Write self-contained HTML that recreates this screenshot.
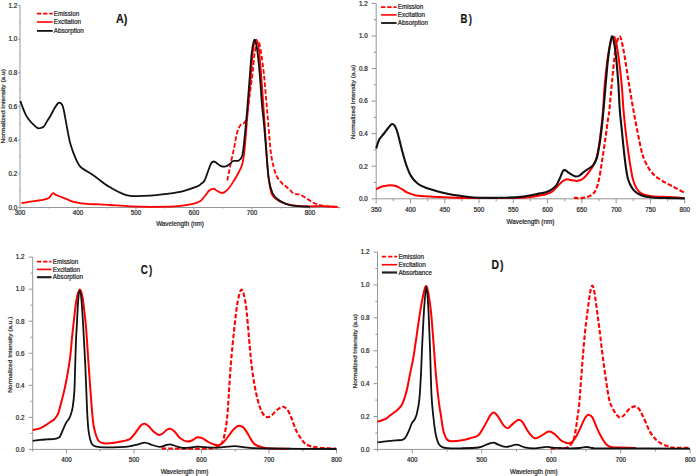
<!DOCTYPE html>
<html><head><meta charset="utf-8"><style>
html,body{margin:0;padding:0;background:#fff;}
body{width:696px;height:476px;overflow:hidden;}
svg{display:block;font-family:"Liberation Sans", sans-serif;}
text{stroke:#333;stroke-width:0.22px;}
</style></head><body>
<svg width="696" height="476" viewBox="0 0 696 476">
<rect width="696" height="476" fill="#fff"/>
<line x1="20.00" y1="207.50" x2="340.20" y2="207.50" stroke="#959595" stroke-width="1.00"/>
<line x1="20.00" y1="207.50" x2="20.00" y2="5.50" stroke="#959595" stroke-width="1.00"/>
<line x1="18.20" y1="207.50" x2="20.00" y2="207.50" stroke="#959595" stroke-width="1.00"/>
<line x1="19.00" y1="190.67" x2="20.00" y2="190.67" stroke="#959595" stroke-width="1.00"/>
<line x1="18.20" y1="173.83" x2="20.00" y2="173.83" stroke="#959595" stroke-width="1.00"/>
<line x1="19.00" y1="157.00" x2="20.00" y2="157.00" stroke="#959595" stroke-width="1.00"/>
<line x1="18.20" y1="140.17" x2="20.00" y2="140.17" stroke="#959595" stroke-width="1.00"/>
<line x1="19.00" y1="123.33" x2="20.00" y2="123.33" stroke="#959595" stroke-width="1.00"/>
<line x1="18.20" y1="106.50" x2="20.00" y2="106.50" stroke="#959595" stroke-width="1.00"/>
<line x1="19.00" y1="89.67" x2="20.00" y2="89.67" stroke="#959595" stroke-width="1.00"/>
<line x1="18.20" y1="72.83" x2="20.00" y2="72.83" stroke="#959595" stroke-width="1.00"/>
<line x1="19.00" y1="56.00" x2="20.00" y2="56.00" stroke="#959595" stroke-width="1.00"/>
<line x1="18.20" y1="39.17" x2="20.00" y2="39.17" stroke="#959595" stroke-width="1.00"/>
<line x1="19.00" y1="22.33" x2="20.00" y2="22.33" stroke="#959595" stroke-width="1.00"/>
<line x1="18.20" y1="5.50" x2="20.00" y2="5.50" stroke="#959595" stroke-width="1.00"/>
<text x="17.20" y="209.80" font-size="6.30" text-anchor="end" fill="#222222" font-weight="normal">0.0</text>
<text x="17.20" y="176.13" font-size="6.30" text-anchor="end" fill="#222222" font-weight="normal">0.2</text>
<text x="17.20" y="142.47" font-size="6.30" text-anchor="end" fill="#222222" font-weight="normal">0.4</text>
<text x="17.20" y="108.80" font-size="6.30" text-anchor="end" fill="#222222" font-weight="normal">0.6</text>
<text x="17.20" y="75.13" font-size="6.30" text-anchor="end" fill="#222222" font-weight="normal">0.8</text>
<text x="17.20" y="41.47" font-size="6.30" text-anchor="end" fill="#222222" font-weight="normal">1.0</text>
<text x="17.20" y="7.80" font-size="6.30" text-anchor="end" fill="#222222" font-weight="normal">1.2</text>
<line x1="20.00" y1="207.50" x2="20.00" y2="209.30" stroke="#959595" stroke-width="1.00"/>
<line x1="48.99" y1="207.50" x2="48.99" y2="208.50" stroke="#959595" stroke-width="1.00"/>
<line x1="77.98" y1="207.50" x2="77.98" y2="209.30" stroke="#959595" stroke-width="1.00"/>
<line x1="106.97" y1="207.50" x2="106.97" y2="208.50" stroke="#959595" stroke-width="1.00"/>
<line x1="135.96" y1="207.50" x2="135.96" y2="209.30" stroke="#959595" stroke-width="1.00"/>
<line x1="164.95" y1="207.50" x2="164.95" y2="208.50" stroke="#959595" stroke-width="1.00"/>
<line x1="193.94" y1="207.50" x2="193.94" y2="209.30" stroke="#959595" stroke-width="1.00"/>
<line x1="222.93" y1="207.50" x2="222.93" y2="208.50" stroke="#959595" stroke-width="1.00"/>
<line x1="251.92" y1="207.50" x2="251.92" y2="209.30" stroke="#959595" stroke-width="1.00"/>
<line x1="280.91" y1="207.50" x2="280.91" y2="208.50" stroke="#959595" stroke-width="1.00"/>
<line x1="309.90" y1="207.50" x2="309.90" y2="209.30" stroke="#959595" stroke-width="1.00"/>
<line x1="338.89" y1="207.50" x2="338.89" y2="208.50" stroke="#959595" stroke-width="1.00"/>
<text x="20.00" y="215.40" font-size="6.30" text-anchor="middle" fill="#222222" font-weight="normal">300</text>
<text x="77.98" y="215.40" font-size="6.30" text-anchor="middle" fill="#222222" font-weight="normal">400</text>
<text x="135.96" y="215.40" font-size="6.30" text-anchor="middle" fill="#222222" font-weight="normal">500</text>
<text x="193.94" y="215.40" font-size="6.30" text-anchor="middle" fill="#222222" font-weight="normal">600</text>
<text x="251.92" y="215.40" font-size="6.30" text-anchor="middle" fill="#222222" font-weight="normal">700</text>
<text x="309.90" y="215.40" font-size="6.30" text-anchor="middle" fill="#222222" font-weight="normal">800</text>
<text x="180.00" y="226.30" font-size="6.30" text-anchor="middle" fill="#222222" font-weight="normal">Wavelength (nm)</text>
<text x="0" y="0" font-size="5.4" text-anchor="middle" fill="#222222" transform="translate(5.30,106.30) rotate(-90) scale(1.21,1)">Normalized Intensity (a.u)</text>
<path d="M227.30,180.50C227.80,178.00 229.17,170.93 230.30,165.50C231.43,160.07 233.00,153.23 234.10,147.90C235.20,142.57 235.83,137.32 236.90,133.50C237.97,129.68 239.23,126.82 240.50,125.00C241.77,123.18 243.42,124.10 244.50,122.60C245.58,121.10 246.15,120.43 247.00,116.00C247.85,111.57 248.70,102.83 249.60,96.00C250.50,89.17 251.53,82.33 252.40,75.00C253.27,67.67 253.85,57.68 254.80,52.00C255.75,46.32 257.07,40.90 258.10,40.90C259.13,40.90 260.02,46.32 261.00,52.00C261.98,57.68 263.13,67.00 264.00,75.00C264.87,83.00 265.48,91.80 266.20,100.00C266.92,108.20 267.45,114.93 268.30,124.20C269.15,133.47 270.00,147.15 271.30,155.60C272.60,164.05 274.30,170.28 276.10,174.90C277.90,179.52 280.45,181.37 282.10,183.30C283.75,185.23 284.67,185.38 286.00,186.50C287.33,187.62 288.92,188.88 290.10,190.00C291.28,191.12 291.95,192.48 293.10,193.20C294.25,193.92 295.83,194.07 297.00,194.30C298.17,194.53 298.57,193.97 300.10,194.60C301.63,195.23 304.18,196.85 306.20,198.10C308.22,199.35 310.20,201.02 312.20,202.10C314.20,203.18 316.02,203.93 318.20,204.60C320.38,205.27 322.12,205.72 325.30,206.10C328.48,206.48 335.30,206.77 337.30,206.90" fill="none" stroke="#ff0000" stroke-width="1.80" stroke-linejoin="round" stroke-dasharray="4.6,2.1"/>
<path d="M21.60,203.20C22.78,202.97 26.32,202.20 28.70,201.80C31.08,201.40 33.50,201.13 35.90,200.80C38.30,200.47 40.93,200.28 43.10,199.80C45.27,199.32 47.47,198.82 48.90,197.90C50.33,196.98 50.95,195.08 51.70,194.30C52.45,193.52 52.68,193.08 53.40,193.20C54.12,193.32 54.85,194.45 56.00,195.00C57.15,195.55 58.62,195.85 60.30,196.50C61.98,197.15 63.70,197.95 66.10,198.90C68.50,199.85 71.35,201.37 74.70,202.20C78.05,203.03 81.98,203.53 86.20,203.90C90.42,204.27 96.02,204.22 100.00,204.40C103.98,204.58 105.07,204.67 110.10,205.00C115.13,205.33 123.50,206.10 130.20,206.40C136.90,206.70 142.92,206.80 150.30,206.80C157.68,206.80 167.78,206.80 174.50,206.40C181.22,206.00 186.42,205.22 190.60,204.40C194.78,203.58 197.28,202.82 199.60,201.50C201.92,200.18 202.93,198.28 204.50,196.50C206.07,194.72 207.50,192.12 209.00,190.80C210.50,189.48 212.17,188.60 213.50,188.60C214.83,188.60 215.50,190.07 217.00,190.80C218.50,191.53 220.70,193.23 222.50,193.00C224.30,192.77 225.92,191.42 227.80,189.40C229.68,187.38 232.00,183.72 233.80,180.90C235.60,178.08 237.18,175.32 238.60,172.50C240.02,169.68 241.28,168.03 242.30,164.00C243.32,159.97 243.87,156.13 244.70,148.30C245.53,140.47 246.27,129.22 247.30,117.00C248.33,104.78 249.95,86.17 250.90,75.00C251.85,63.83 252.08,55.90 253.00,50.00C253.92,44.10 255.40,39.60 256.40,39.60C257.40,39.60 258.20,44.10 259.00,50.00C259.80,55.90 260.42,65.00 261.20,75.00C261.98,85.00 263.03,100.60 263.70,110.00C264.37,119.40 264.55,121.80 265.20,131.40C265.85,141.00 266.80,158.33 267.60,167.60C268.40,176.87 269.18,182.37 270.00,187.00C270.82,191.63 270.88,193.00 272.50,195.40C274.12,197.80 276.48,199.78 279.70,201.40C282.92,203.02 286.97,204.28 291.80,205.10C296.63,205.92 303.97,206.12 308.70,206.30C313.43,206.48 315.37,206.10 320.20,206.20C325.03,206.30 334.78,206.78 337.70,206.90" fill="none" stroke="#ff0000" stroke-width="1.80" stroke-linejoin="round"/>
<path d="M20.40,101.00C20.87,102.30 22.30,106.50 23.20,108.80C24.10,111.10 24.80,112.93 25.80,114.80C26.80,116.67 27.92,118.35 29.20,120.00C30.48,121.65 32.07,123.33 33.50,124.70C34.93,126.07 36.50,127.68 37.80,128.20C39.10,128.72 40.28,128.10 41.30,127.80C42.32,127.50 42.90,127.55 43.90,126.40C44.90,125.25 46.15,122.77 47.30,120.90C48.45,119.03 49.65,117.22 50.80,115.20C51.95,113.18 53.05,110.73 54.20,108.80C55.35,106.87 56.82,104.63 57.70,103.60C58.58,102.57 58.78,102.45 59.50,102.60C60.22,102.75 61.30,103.32 62.00,104.50C62.70,105.68 63.07,106.97 63.70,109.70C64.33,112.43 65.08,117.03 65.80,120.90C66.52,124.77 67.22,129.02 68.00,132.90C68.78,136.78 69.25,140.00 70.50,144.20C71.75,148.40 73.83,154.32 75.50,158.10C77.17,161.88 78.40,164.60 80.50,166.90C82.60,169.20 85.57,170.22 88.10,171.90C90.63,173.58 92.97,175.02 95.70,177.00C98.43,178.98 102.10,182.08 104.50,183.80C106.90,185.52 107.48,185.82 110.10,187.30C112.72,188.78 116.85,191.27 120.20,192.70C123.55,194.13 125.18,195.40 130.20,195.90C135.22,196.40 144.27,196.03 150.30,195.70C156.33,195.37 161.03,194.63 166.40,193.90C171.77,193.17 177.47,192.50 182.50,191.30C187.53,190.10 193.52,187.92 196.60,186.70C199.68,185.48 199.68,185.03 201.00,184.00C202.32,182.97 203.25,182.83 204.50,180.50C205.75,178.17 207.42,172.83 208.50,170.00C209.58,167.17 210.17,164.92 211.00,163.50C211.83,162.08 212.53,161.55 213.50,161.50C214.47,161.45 215.55,162.42 216.80,163.20C218.05,163.98 219.53,165.67 221.00,166.20C222.47,166.73 224.18,166.73 225.60,166.40C227.02,166.07 228.25,165.10 229.50,164.20C230.75,163.30 231.58,161.60 233.10,161.00C234.62,160.40 237.07,161.50 238.60,160.60C240.13,159.70 241.30,159.45 242.30,155.60C243.30,151.75 243.83,144.60 244.60,137.50C245.37,130.40 246.02,123.42 246.90,113.00C247.78,102.58 249.08,85.17 249.90,75.00C250.72,64.83 251.03,57.90 251.80,52.00C252.57,46.10 253.60,39.93 254.50,39.60C255.40,39.27 256.32,44.10 257.20,50.00C258.08,55.90 259.00,65.83 259.80,75.00C260.60,84.17 261.30,96.80 262.00,105.00C262.70,113.20 263.27,116.18 264.00,124.20C264.73,132.22 265.60,143.85 266.40,153.10C267.20,162.35 267.78,173.05 268.80,179.70C269.82,186.35 271.08,189.78 272.50,193.00C273.92,196.22 275.30,197.27 277.30,199.00C279.30,200.73 282.08,202.30 284.50,203.40C286.92,204.50 288.98,205.12 291.80,205.60C294.62,206.08 298.33,206.13 301.40,206.30C304.47,206.47 308.73,206.55 310.20,206.60" fill="none" stroke="#111111" stroke-width="1.80" stroke-linejoin="round"/>
<line x1="36.90" y1="13.60" x2="52.70" y2="13.60" stroke="#ff0000" stroke-width="1.60" stroke-dasharray="4.3,1.9"/>
<line x1="36.90" y1="22.00" x2="52.70" y2="22.00" stroke="#ff0000" stroke-width="1.60"/>
<line x1="36.90" y1="30.90" x2="52.70" y2="30.90" stroke="#111111" stroke-width="1.80"/>
<text x="53.70" y="15.80" font-size="6.30" text-anchor="start" fill="#222222" font-weight="normal">Emission</text>
<text x="53.70" y="24.20" font-size="6.30" text-anchor="start" fill="#222222" font-weight="normal">Excitation</text>
<text x="53.70" y="33.10" font-size="6.30" text-anchor="start" fill="#222222" font-weight="normal">Absorption</text>
<text x="116.00" y="22.90" font-size="12.00" text-anchor="start" fill="#111" font-weight="bold" transform="translate(116,0) scale(0.9,1) translate(-116,0)">A)</text>
<line x1="376.20" y1="198.80" x2="684.70" y2="198.80" stroke="#959595" stroke-width="1.00"/>
<line x1="376.20" y1="198.80" x2="376.20" y2="3.40" stroke="#959595" stroke-width="1.00"/>
<line x1="371.60" y1="198.80" x2="376.20" y2="198.80" stroke="#959595" stroke-width="1.00"/>
<line x1="373.80" y1="182.52" x2="376.20" y2="182.52" stroke="#959595" stroke-width="1.00"/>
<line x1="371.60" y1="166.23" x2="376.20" y2="166.23" stroke="#959595" stroke-width="1.00"/>
<line x1="373.80" y1="149.95" x2="376.20" y2="149.95" stroke="#959595" stroke-width="1.00"/>
<line x1="371.60" y1="133.67" x2="376.20" y2="133.67" stroke="#959595" stroke-width="1.00"/>
<line x1="373.80" y1="117.38" x2="376.20" y2="117.38" stroke="#959595" stroke-width="1.00"/>
<line x1="371.60" y1="101.10" x2="376.20" y2="101.10" stroke="#959595" stroke-width="1.00"/>
<line x1="373.80" y1="84.82" x2="376.20" y2="84.82" stroke="#959595" stroke-width="1.00"/>
<line x1="371.60" y1="68.53" x2="376.20" y2="68.53" stroke="#959595" stroke-width="1.00"/>
<line x1="373.80" y1="52.25" x2="376.20" y2="52.25" stroke="#959595" stroke-width="1.00"/>
<line x1="371.60" y1="35.97" x2="376.20" y2="35.97" stroke="#959595" stroke-width="1.00"/>
<line x1="373.80" y1="19.68" x2="376.20" y2="19.68" stroke="#959595" stroke-width="1.00"/>
<line x1="371.60" y1="3.40" x2="376.20" y2="3.40" stroke="#959595" stroke-width="1.00"/>
<text x="367.80" y="201.10" font-size="6.30" text-anchor="end" fill="#222222" font-weight="normal">0.0</text>
<text x="367.80" y="168.53" font-size="6.30" text-anchor="end" fill="#222222" font-weight="normal">0.2</text>
<text x="367.80" y="135.97" font-size="6.30" text-anchor="end" fill="#222222" font-weight="normal">0.4</text>
<text x="367.80" y="103.40" font-size="6.30" text-anchor="end" fill="#222222" font-weight="normal">0.6</text>
<text x="367.80" y="70.83" font-size="6.30" text-anchor="end" fill="#222222" font-weight="normal">0.8</text>
<text x="367.80" y="38.27" font-size="6.30" text-anchor="end" fill="#222222" font-weight="normal">1.0</text>
<text x="367.80" y="5.70" font-size="6.30" text-anchor="end" fill="#222222" font-weight="normal">1.2</text>
<line x1="376.20" y1="198.80" x2="376.20" y2="203.40" stroke="#959595" stroke-width="1.00"/>
<line x1="393.34" y1="198.80" x2="393.34" y2="201.20" stroke="#959595" stroke-width="1.00"/>
<line x1="410.48" y1="198.80" x2="410.48" y2="203.40" stroke="#959595" stroke-width="1.00"/>
<line x1="427.62" y1="198.80" x2="427.62" y2="201.20" stroke="#959595" stroke-width="1.00"/>
<line x1="444.76" y1="198.80" x2="444.76" y2="203.40" stroke="#959595" stroke-width="1.00"/>
<line x1="461.89" y1="198.80" x2="461.89" y2="201.20" stroke="#959595" stroke-width="1.00"/>
<line x1="479.03" y1="198.80" x2="479.03" y2="203.40" stroke="#959595" stroke-width="1.00"/>
<line x1="496.17" y1="198.80" x2="496.17" y2="201.20" stroke="#959595" stroke-width="1.00"/>
<line x1="513.31" y1="198.80" x2="513.31" y2="203.40" stroke="#959595" stroke-width="1.00"/>
<line x1="530.45" y1="198.80" x2="530.45" y2="201.20" stroke="#959595" stroke-width="1.00"/>
<line x1="547.59" y1="198.80" x2="547.59" y2="203.40" stroke="#959595" stroke-width="1.00"/>
<line x1="564.73" y1="198.80" x2="564.73" y2="201.20" stroke="#959595" stroke-width="1.00"/>
<line x1="581.87" y1="198.80" x2="581.87" y2="203.40" stroke="#959595" stroke-width="1.00"/>
<line x1="599.01" y1="198.80" x2="599.01" y2="201.20" stroke="#959595" stroke-width="1.00"/>
<line x1="616.14" y1="198.80" x2="616.14" y2="203.40" stroke="#959595" stroke-width="1.00"/>
<line x1="633.28" y1="198.80" x2="633.28" y2="201.20" stroke="#959595" stroke-width="1.00"/>
<line x1="650.42" y1="198.80" x2="650.42" y2="203.40" stroke="#959595" stroke-width="1.00"/>
<line x1="667.56" y1="198.80" x2="667.56" y2="201.20" stroke="#959595" stroke-width="1.00"/>
<line x1="684.70" y1="198.80" x2="684.70" y2="203.40" stroke="#959595" stroke-width="1.00"/>
<text x="376.20" y="211.80" font-size="6.30" text-anchor="middle" fill="#222222" font-weight="normal">350</text>
<text x="410.48" y="211.80" font-size="6.30" text-anchor="middle" fill="#222222" font-weight="normal">400</text>
<text x="444.76" y="211.80" font-size="6.30" text-anchor="middle" fill="#222222" font-weight="normal">450</text>
<text x="479.03" y="211.80" font-size="6.30" text-anchor="middle" fill="#222222" font-weight="normal">500</text>
<text x="513.31" y="211.80" font-size="6.30" text-anchor="middle" fill="#222222" font-weight="normal">550</text>
<text x="547.59" y="211.80" font-size="6.30" text-anchor="middle" fill="#222222" font-weight="normal">600</text>
<text x="581.87" y="211.80" font-size="6.30" text-anchor="middle" fill="#222222" font-weight="normal">650</text>
<text x="616.14" y="211.80" font-size="6.30" text-anchor="middle" fill="#222222" font-weight="normal">700</text>
<text x="650.42" y="211.80" font-size="6.30" text-anchor="middle" fill="#222222" font-weight="normal">750</text>
<text x="684.70" y="211.80" font-size="6.30" text-anchor="middle" fill="#222222" font-weight="normal">800</text>
<text x="530.40" y="223.60" font-size="6.30" text-anchor="middle" fill="#222222" font-weight="normal">Wavelength (nm)</text>
<text x="0" y="0" font-size="5.4" text-anchor="middle" fill="#222222" transform="translate(354.70,102.00) rotate(-90) scale(1.21,1)">Normalized Intensity (a.u)</text>
<path d="M573.90,197.80C574.90,197.87 577.90,198.27 579.90,198.20C581.90,198.13 583.90,197.97 585.90,197.40C587.90,196.83 590.23,196.07 591.90,194.80C593.57,193.53 594.73,192.30 595.90,189.80C597.07,187.30 597.90,184.45 598.90,179.80C599.90,175.15 600.90,168.22 601.90,161.90C602.90,155.58 603.90,148.88 604.90,141.90C605.90,134.92 607.15,125.32 607.90,120.00C608.65,114.68 608.72,116.38 609.40,110.00C610.08,103.62 610.98,91.70 612.00,81.70C613.02,71.70 614.25,57.57 615.50,50.00C616.75,42.43 618.17,36.30 619.50,36.30C620.83,36.30 621.98,42.43 623.50,50.00C625.02,57.57 626.80,70.87 628.60,81.70C630.40,92.53 632.18,103.62 634.30,115.00C636.42,126.38 639.52,142.32 641.30,150.00C643.08,157.68 643.62,157.83 645.00,161.10C646.38,164.37 647.90,167.12 649.60,169.60C651.30,172.08 653.05,174.10 655.20,176.00C657.35,177.90 659.73,179.33 662.50,181.00C665.27,182.67 668.13,184.03 671.80,186.00C675.47,187.97 682.38,191.67 684.50,192.80" fill="none" stroke="#ff0000" stroke-width="2.10" stroke-linejoin="round" stroke-dasharray="4.6,2.1"/>
<path d="M376.20,189.30C377.17,188.83 379.70,187.18 382.00,186.50C384.30,185.82 387.68,185.28 390.00,185.20C392.32,185.12 393.92,185.33 395.90,186.00C397.88,186.67 399.90,188.07 401.90,189.20C403.90,190.33 405.57,191.77 407.90,192.80C410.23,193.83 412.23,194.77 415.90,195.40C419.57,196.03 424.25,196.27 429.90,196.60C435.55,196.93 443.82,197.17 449.80,197.40C455.78,197.63 457.87,197.88 465.80,198.00C473.73,198.12 487.92,198.15 497.40,198.10C506.88,198.05 516.12,198.03 522.70,197.70C529.28,197.37 534.02,196.48 536.90,196.10C539.78,195.72 538.48,195.72 540.00,195.40C541.52,195.08 544.00,194.80 546.00,194.20C548.00,193.60 550.00,193.20 552.00,191.80C554.00,190.40 556.33,187.47 558.00,185.80C559.67,184.13 560.68,182.87 562.00,181.80C563.32,180.73 564.25,179.67 565.90,179.40C567.55,179.13 569.90,179.97 571.90,180.20C573.90,180.43 575.90,181.18 577.90,180.80C579.90,180.42 581.57,180.05 583.90,177.90C586.23,175.75 589.90,170.90 591.90,167.90C593.90,164.90 594.73,163.57 595.90,159.90C597.07,156.23 597.97,151.55 598.90,145.90C599.83,140.25 600.80,131.98 601.50,126.00C602.20,120.02 602.52,117.38 603.10,110.00C603.68,102.62 604.02,91.70 605.00,81.70C605.98,71.70 607.52,57.50 609.00,50.00C610.48,42.50 612.48,36.70 613.90,36.70C615.32,36.70 616.25,42.50 617.50,50.00C618.75,57.50 620.40,71.70 621.40,81.70C622.40,91.70 622.82,101.95 623.50,110.00C624.18,118.05 624.75,123.33 625.50,130.00C626.25,136.67 627.22,144.20 628.00,150.00C628.78,155.80 629.37,159.87 630.20,164.80C631.03,169.73 631.92,175.60 633.00,179.60C634.08,183.60 635.17,186.40 636.70,188.80C638.23,191.20 639.73,192.77 642.20,194.00C644.67,195.23 646.87,195.68 651.50,196.20C656.13,196.72 664.47,196.77 670.00,197.10C675.53,197.43 682.25,198.02 684.70,198.20" fill="none" stroke="#ff0000" stroke-width="2.00" stroke-linejoin="round"/>
<path d="M376.20,148.50C376.67,147.07 377.70,142.40 379.00,139.90C380.30,137.40 382.33,135.65 384.00,133.50C385.67,131.35 387.67,128.58 389.00,127.00C390.33,125.42 391.02,124.17 392.00,124.00C392.98,123.83 393.92,124.33 394.90,126.00C395.88,127.67 396.73,130.02 397.90,134.00C399.07,137.98 400.57,144.92 401.90,149.90C403.23,154.88 404.40,159.57 405.90,163.90C407.40,168.23 408.90,172.58 410.90,175.90C412.90,179.22 415.40,181.82 417.90,183.80C420.40,185.78 422.57,186.53 425.90,187.80C429.23,189.07 433.92,190.33 437.90,191.40C441.88,192.47 446.12,193.47 449.80,194.20C453.48,194.93 456.02,195.25 460.00,195.80C463.98,196.35 467.47,197.17 473.70,197.50C479.93,197.83 489.50,197.90 497.40,197.80C505.30,197.70 515.30,197.37 521.10,196.90C526.90,196.43 529.05,195.58 532.20,195.00C535.35,194.42 537.70,193.87 540.00,193.40C542.30,192.93 544.17,192.80 546.00,192.20C547.83,191.60 549.33,190.87 551.00,189.80C552.67,188.73 554.50,187.78 556.00,185.80C557.50,183.82 558.83,180.38 560.00,177.90C561.17,175.42 562.08,172.17 563.00,170.90C563.92,169.63 564.52,169.97 565.50,170.30C566.48,170.63 567.33,171.90 568.90,172.90C570.47,173.90 573.23,175.80 574.90,176.30C576.57,176.80 577.40,176.63 578.90,175.90C580.40,175.17 582.23,173.13 583.90,171.90C585.57,170.67 587.40,169.57 588.90,168.50C590.40,167.43 591.57,167.27 592.90,165.50C594.23,163.73 595.73,161.83 596.90,157.90C598.07,153.97 599.07,147.22 599.90,141.90C600.73,136.58 601.30,131.32 601.90,126.00C602.50,120.68 602.83,117.38 603.50,110.00C604.17,102.62 605.07,90.87 605.90,81.70C606.73,72.53 607.48,62.57 608.50,55.00C609.52,47.43 610.83,36.80 612.00,36.30C613.17,35.80 614.47,44.43 615.50,52.00C616.53,59.57 617.48,72.03 618.20,81.70C618.92,91.37 619.20,101.95 619.80,110.00C620.40,118.05 621.13,123.33 621.80,130.00C622.47,136.67 623.15,144.00 623.80,150.00C624.45,156.00 625.00,161.17 625.70,166.00C626.40,170.83 626.95,175.35 628.00,179.00C629.05,182.65 630.55,185.58 632.00,187.90C633.45,190.22 634.68,191.52 636.70,192.90C638.72,194.28 641.02,195.40 644.10,196.20C647.18,197.00 650.88,197.38 655.20,197.70C659.52,198.02 665.08,197.98 670.00,198.10C674.92,198.22 682.25,198.35 684.70,198.40" fill="none" stroke="#111111" stroke-width="2.10" stroke-linejoin="round"/>
<line x1="381.10" y1="7.10" x2="396.60" y2="7.10" stroke="#ff0000" stroke-width="1.60" stroke-dasharray="4.3,1.9"/>
<line x1="381.10" y1="14.90" x2="396.60" y2="14.90" stroke="#ff0000" stroke-width="1.60"/>
<line x1="381.10" y1="23.00" x2="396.60" y2="23.00" stroke="#111111" stroke-width="1.80"/>
<text x="397.80" y="9.30" font-size="6.30" text-anchor="start" fill="#222222" font-weight="normal">Emission</text>
<text x="397.80" y="17.10" font-size="6.30" text-anchor="start" fill="#222222" font-weight="normal">Excitation</text>
<text x="397.80" y="25.20" font-size="6.30" text-anchor="start" fill="#222222" font-weight="normal">Absorption</text>
<text x="460.60" y="22.60" font-size="13.30" text-anchor="start" fill="#111" font-weight="bold" letter-spacing="1.6" transform="translate(460.6,0) scale(0.72,1) translate(-460.6,0)">B)</text>
<line x1="32.70" y1="449.40" x2="336.60" y2="449.40" stroke="#959595" stroke-width="1.00"/>
<line x1="32.70" y1="449.40" x2="32.70" y2="257.10" stroke="#959595" stroke-width="1.00"/>
<line x1="28.70" y1="449.40" x2="32.70" y2="449.40" stroke="#959595" stroke-width="1.00"/>
<line x1="30.50" y1="433.38" x2="32.70" y2="433.38" stroke="#959595" stroke-width="1.00"/>
<line x1="28.70" y1="417.35" x2="32.70" y2="417.35" stroke="#959595" stroke-width="1.00"/>
<line x1="30.50" y1="401.32" x2="32.70" y2="401.32" stroke="#959595" stroke-width="1.00"/>
<line x1="28.70" y1="385.30" x2="32.70" y2="385.30" stroke="#959595" stroke-width="1.00"/>
<line x1="30.50" y1="369.27" x2="32.70" y2="369.27" stroke="#959595" stroke-width="1.00"/>
<line x1="28.70" y1="353.25" x2="32.70" y2="353.25" stroke="#959595" stroke-width="1.00"/>
<line x1="30.50" y1="337.22" x2="32.70" y2="337.22" stroke="#959595" stroke-width="1.00"/>
<line x1="28.70" y1="321.20" x2="32.70" y2="321.20" stroke="#959595" stroke-width="1.00"/>
<line x1="30.50" y1="305.18" x2="32.70" y2="305.18" stroke="#959595" stroke-width="1.00"/>
<line x1="28.70" y1="289.15" x2="32.70" y2="289.15" stroke="#959595" stroke-width="1.00"/>
<line x1="30.50" y1="273.12" x2="32.70" y2="273.12" stroke="#959595" stroke-width="1.00"/>
<line x1="28.70" y1="257.10" x2="32.70" y2="257.10" stroke="#959595" stroke-width="1.00"/>
<text x="24.40" y="451.70" font-size="6.30" text-anchor="end" fill="#222222" font-weight="normal">0.0</text>
<text x="24.40" y="419.65" font-size="6.30" text-anchor="end" fill="#222222" font-weight="normal">0.2</text>
<text x="24.40" y="387.60" font-size="6.30" text-anchor="end" fill="#222222" font-weight="normal">0.4</text>
<text x="24.40" y="355.55" font-size="6.30" text-anchor="end" fill="#222222" font-weight="normal">0.6</text>
<text x="24.40" y="323.50" font-size="6.30" text-anchor="end" fill="#222222" font-weight="normal">0.8</text>
<text x="24.40" y="291.45" font-size="6.30" text-anchor="end" fill="#222222" font-weight="normal">1.0</text>
<text x="24.40" y="259.40" font-size="6.30" text-anchor="end" fill="#222222" font-weight="normal">1.2</text>
<line x1="32.70" y1="449.40" x2="32.70" y2="451.60" stroke="#959595" stroke-width="1.00"/>
<line x1="66.47" y1="449.40" x2="66.47" y2="453.40" stroke="#959595" stroke-width="1.00"/>
<line x1="100.23" y1="449.40" x2="100.23" y2="451.60" stroke="#959595" stroke-width="1.00"/>
<line x1="134.00" y1="449.40" x2="134.00" y2="453.40" stroke="#959595" stroke-width="1.00"/>
<line x1="167.77" y1="449.40" x2="167.77" y2="451.60" stroke="#959595" stroke-width="1.00"/>
<line x1="201.53" y1="449.40" x2="201.53" y2="453.40" stroke="#959595" stroke-width="1.00"/>
<line x1="235.30" y1="449.40" x2="235.30" y2="451.60" stroke="#959595" stroke-width="1.00"/>
<line x1="269.07" y1="449.40" x2="269.07" y2="453.40" stroke="#959595" stroke-width="1.00"/>
<line x1="302.83" y1="449.40" x2="302.83" y2="451.60" stroke="#959595" stroke-width="1.00"/>
<line x1="336.60" y1="449.40" x2="336.60" y2="453.40" stroke="#959595" stroke-width="1.00"/>
<text x="66.47" y="462.00" font-size="6.30" text-anchor="middle" fill="#222222" font-weight="normal">400</text>
<text x="134.00" y="462.00" font-size="6.30" text-anchor="middle" fill="#222222" font-weight="normal">500</text>
<text x="201.53" y="462.00" font-size="6.30" text-anchor="middle" fill="#222222" font-weight="normal">600</text>
<text x="269.07" y="462.00" font-size="6.30" text-anchor="middle" fill="#222222" font-weight="normal">700</text>
<text x="336.60" y="462.00" font-size="6.30" text-anchor="middle" fill="#222222" font-weight="normal">800</text>
<text x="184.50" y="473.80" font-size="6.30" text-anchor="middle" fill="#222222" font-weight="normal">Wavelength (nm)</text>
<text x="0" y="0" font-size="5.4" text-anchor="middle" fill="#222222" transform="translate(11.90,354.60) rotate(-90) scale(1.21,1)">Normalized Intensity (a.u.)</text>
<path d="M161.60,448.40C164.67,448.43 173.47,448.57 180.00,448.60C186.53,448.63 195.30,448.65 200.80,448.60C206.30,448.55 210.05,448.67 213.00,448.30C215.95,447.93 216.93,447.45 218.50,446.40C220.07,445.35 221.35,444.15 222.40,442.00C223.45,439.85 224.10,436.83 224.80,433.50C225.50,430.17 226.07,426.42 226.60,422.00C227.13,417.58 227.32,416.33 228.00,407.00C228.68,397.67 229.68,378.80 230.70,366.00C231.72,353.20 232.95,340.80 234.10,330.20C235.25,319.60 236.35,309.17 237.60,302.40C238.85,295.63 240.28,289.58 241.60,289.60C242.92,289.62 244.47,296.77 245.50,302.50C246.53,308.23 246.95,315.08 247.80,324.00C248.65,332.92 249.70,347.17 250.60,356.00C251.50,364.83 252.22,370.50 253.20,377.00C254.18,383.50 255.37,389.92 256.50,395.00C257.63,400.08 258.83,404.25 260.00,407.50C261.17,410.75 262.25,412.87 263.50,414.50C264.75,416.13 266.08,417.22 267.50,417.30C268.92,417.38 270.42,416.22 272.00,415.00C273.58,413.78 275.20,411.38 277.00,410.00C278.80,408.62 281.05,406.70 282.80,406.70C284.55,406.70 286.05,408.12 287.50,410.00C288.95,411.88 290.17,414.83 291.50,418.00C292.83,421.17 294.15,425.92 295.50,429.00C296.85,432.08 298.18,434.25 299.60,436.50C301.02,438.75 302.52,441.00 304.00,442.50C305.48,444.00 306.50,444.70 308.50,445.50C310.50,446.30 312.55,446.83 316.00,447.30C319.45,447.77 325.87,448.08 329.20,448.30C332.53,448.52 334.87,448.55 336.00,448.60" fill="none" stroke="#ff0000" stroke-width="2.10" stroke-linejoin="round" stroke-dasharray="4.6,2.1"/>
<path d="M32.70,429.90C33.82,429.68 37.23,429.38 39.40,428.60C41.57,427.82 43.93,426.25 45.70,425.20C47.47,424.15 48.60,423.27 50.00,422.30C51.40,421.33 52.93,420.48 54.10,419.40C55.27,418.32 56.25,416.98 57.00,415.80C57.75,414.62 58.02,414.07 58.60,412.30C59.18,410.53 59.55,408.85 60.50,405.20C61.45,401.55 63.12,395.67 64.30,390.40C65.48,385.13 66.62,379.20 67.60,373.60C68.58,368.00 69.50,362.40 70.20,356.80C70.90,351.20 71.18,346.08 71.80,340.00C72.42,333.92 73.10,327.13 73.90,320.30C74.70,313.47 75.63,304.12 76.60,299.00C77.57,293.88 78.70,289.83 79.70,289.60C80.70,289.37 81.75,293.28 82.60,297.60C83.45,301.92 84.20,310.20 84.80,315.50C85.40,320.80 85.63,322.18 86.20,329.40C86.77,336.62 87.52,349.00 88.20,358.80C88.88,368.60 89.65,379.37 90.30,388.20C90.95,397.03 91.55,405.58 92.10,411.80C92.65,418.02 92.98,421.72 93.60,425.50C94.22,429.28 94.97,431.95 95.80,434.50C96.63,437.05 97.28,439.33 98.60,440.80C99.92,442.27 101.30,442.93 103.70,443.30C106.10,443.67 109.88,443.33 113.00,443.00C116.12,442.67 119.60,441.93 122.40,441.30C125.20,440.67 127.63,440.62 129.80,439.20C131.97,437.78 133.53,435.13 135.40,432.80C137.27,430.47 139.43,426.72 141.00,425.20C142.57,423.68 143.55,423.55 144.80,423.70C146.05,423.85 146.95,424.70 148.50,426.10C150.05,427.50 152.38,430.63 154.10,432.10C155.82,433.57 157.40,434.65 158.80,434.90C160.20,435.15 161.10,434.50 162.50,433.60C163.90,432.70 165.80,430.28 167.20,429.50C168.60,428.72 169.65,428.52 170.90,428.90C172.15,429.28 173.13,430.23 174.70,431.80C176.27,433.37 178.28,436.68 180.30,438.30C182.32,439.92 184.78,441.18 186.80,441.50C188.82,441.82 190.62,440.92 192.40,440.20C194.18,439.48 195.78,437.52 197.50,437.20C199.22,436.88 200.90,437.50 202.70,438.30C204.50,439.10 206.50,441.00 208.30,442.00C210.10,443.00 211.80,443.75 213.50,444.30C215.20,444.85 216.93,445.57 218.50,445.30C220.07,445.03 221.28,444.17 222.90,442.70C224.52,441.23 226.57,438.57 228.20,436.50C229.83,434.43 231.22,432.00 232.70,430.30C234.18,428.60 235.85,427.03 237.10,426.30C238.35,425.57 239.18,425.75 240.20,425.90C241.22,426.05 242.10,426.17 243.20,427.20C244.30,428.23 245.62,430.27 246.80,432.10C247.98,433.93 249.13,436.30 250.30,438.20C251.47,440.10 252.62,442.25 253.80,443.50C254.98,444.75 256.28,445.15 257.40,445.70C258.52,446.25 258.30,446.33 260.50,446.80C262.70,447.27 265.68,448.17 270.60,448.50C275.52,448.83 286.77,448.75 290.00,448.80" fill="none" stroke="#ff0000" stroke-width="2.00" stroke-linejoin="round"/>
<path d="M32.70,440.80C34.00,440.65 38.15,440.13 40.50,439.90C42.85,439.67 44.38,439.58 46.80,439.40C49.22,439.22 53.05,439.07 55.00,438.80C56.95,438.53 57.60,438.32 58.50,437.80C59.40,437.28 59.55,437.28 60.40,435.70C61.25,434.12 62.63,430.48 63.60,428.30C64.57,426.12 65.37,424.08 66.20,422.60C67.03,421.12 67.88,420.58 68.60,419.40C69.32,418.22 69.82,417.53 70.50,415.50C71.18,413.47 72.05,411.38 72.70,407.20C73.35,403.02 73.98,397.40 74.40,390.40C74.82,383.40 74.93,373.60 75.20,365.20C75.47,356.80 75.75,346.22 76.00,340.00C76.25,333.78 76.33,334.55 76.70,327.90C77.07,321.25 77.70,306.37 78.20,300.10C78.70,293.83 79.15,290.30 79.70,290.30C80.25,290.30 80.90,293.83 81.50,300.10C82.10,306.37 82.67,316.95 83.30,327.90C83.93,338.85 84.77,354.62 85.30,365.80C85.83,376.98 86.15,386.63 86.50,395.00C86.85,403.37 87.03,409.85 87.40,416.00C87.77,422.15 88.08,427.52 88.70,431.90C89.32,436.28 90.18,439.95 91.10,442.30C92.02,444.65 92.72,445.20 94.20,446.00C95.68,446.80 96.87,446.88 100.00,447.10C103.13,447.32 108.83,447.35 113.00,447.30C117.17,447.25 122.00,447.02 125.00,446.80C128.00,446.58 128.95,446.37 131.00,446.00C133.05,445.63 135.00,445.17 137.30,444.60C139.60,444.03 142.32,442.53 144.80,442.60C147.28,442.67 149.72,444.30 152.20,445.00C154.68,445.70 157.57,446.72 159.70,446.80C161.83,446.88 163.23,445.92 165.00,445.50C166.77,445.08 168.07,444.07 170.30,444.30C172.53,444.53 175.95,446.28 178.40,446.90C180.85,447.52 181.88,448.03 185.00,448.00C188.12,447.97 193.85,446.85 197.10,446.70C200.35,446.55 201.07,446.93 204.50,447.10C207.93,447.27 212.67,447.85 217.70,447.70C222.73,447.55 229.67,446.20 234.70,446.20C239.73,446.20 241.92,447.32 247.90,447.70C253.88,448.08 255.82,448.28 270.60,448.50C285.38,448.72 325.60,448.92 336.60,449.00" fill="none" stroke="#111111" stroke-width="1.80" stroke-linejoin="round"/>
<line x1="36.90" y1="261.60" x2="51.50" y2="261.60" stroke="#ff0000" stroke-width="1.60" stroke-dasharray="4.3,1.9"/>
<line x1="36.90" y1="269.40" x2="51.50" y2="269.40" stroke="#ff0000" stroke-width="1.60"/>
<line x1="36.90" y1="277.20" x2="51.50" y2="277.20" stroke="#222" stroke-width="2.20"/>
<text x="52.80" y="263.80" font-size="6.30" text-anchor="start" fill="#222222" font-weight="normal">Emission</text>
<text x="52.80" y="271.60" font-size="6.30" text-anchor="start" fill="#222222" font-weight="normal">Excitation</text>
<text x="52.80" y="279.40" font-size="6.30" text-anchor="start" fill="#222222" font-weight="normal">Absorption</text>
<text x="140.80" y="274.30" font-size="13.00" text-anchor="start" fill="#111" font-weight="bold" letter-spacing="1.6" transform="translate(140.8,0) scale(0.75,1) translate(-140.8,0)">C)</text>
<line x1="377.50" y1="449.40" x2="690.20" y2="449.40" stroke="#959595" stroke-width="1.00"/>
<line x1="377.50" y1="449.40" x2="377.50" y2="252.10" stroke="#959595" stroke-width="1.00"/>
<line x1="373.50" y1="449.40" x2="377.50" y2="449.40" stroke="#959595" stroke-width="1.00"/>
<line x1="375.30" y1="432.96" x2="377.50" y2="432.96" stroke="#959595" stroke-width="1.00"/>
<line x1="373.50" y1="416.52" x2="377.50" y2="416.52" stroke="#959595" stroke-width="1.00"/>
<line x1="375.30" y1="400.07" x2="377.50" y2="400.07" stroke="#959595" stroke-width="1.00"/>
<line x1="373.50" y1="383.63" x2="377.50" y2="383.63" stroke="#959595" stroke-width="1.00"/>
<line x1="375.30" y1="367.19" x2="377.50" y2="367.19" stroke="#959595" stroke-width="1.00"/>
<line x1="373.50" y1="350.75" x2="377.50" y2="350.75" stroke="#959595" stroke-width="1.00"/>
<line x1="375.30" y1="334.31" x2="377.50" y2="334.31" stroke="#959595" stroke-width="1.00"/>
<line x1="373.50" y1="317.87" x2="377.50" y2="317.87" stroke="#959595" stroke-width="1.00"/>
<line x1="375.30" y1="301.42" x2="377.50" y2="301.42" stroke="#959595" stroke-width="1.00"/>
<line x1="373.50" y1="284.98" x2="377.50" y2="284.98" stroke="#959595" stroke-width="1.00"/>
<line x1="375.30" y1="268.54" x2="377.50" y2="268.54" stroke="#959595" stroke-width="1.00"/>
<line x1="373.50" y1="252.10" x2="377.50" y2="252.10" stroke="#959595" stroke-width="1.00"/>
<text x="369.40" y="451.70" font-size="6.30" text-anchor="end" fill="#222222" font-weight="normal">0.0</text>
<text x="369.40" y="418.82" font-size="6.30" text-anchor="end" fill="#222222" font-weight="normal">0.2</text>
<text x="369.40" y="385.93" font-size="6.30" text-anchor="end" fill="#222222" font-weight="normal">0.4</text>
<text x="369.40" y="353.05" font-size="6.30" text-anchor="end" fill="#222222" font-weight="normal">0.6</text>
<text x="369.40" y="320.17" font-size="6.30" text-anchor="end" fill="#222222" font-weight="normal">0.8</text>
<text x="369.40" y="287.28" font-size="6.30" text-anchor="end" fill="#222222" font-weight="normal">1.0</text>
<text x="369.40" y="254.40" font-size="6.30" text-anchor="end" fill="#222222" font-weight="normal">1.2</text>
<line x1="377.50" y1="449.40" x2="377.50" y2="451.60" stroke="#959595" stroke-width="1.00"/>
<line x1="412.24" y1="449.40" x2="412.24" y2="453.40" stroke="#959595" stroke-width="1.00"/>
<line x1="446.99" y1="449.40" x2="446.99" y2="451.60" stroke="#959595" stroke-width="1.00"/>
<line x1="481.73" y1="449.40" x2="481.73" y2="453.40" stroke="#959595" stroke-width="1.00"/>
<line x1="516.48" y1="449.40" x2="516.48" y2="451.60" stroke="#959595" stroke-width="1.00"/>
<line x1="551.22" y1="449.40" x2="551.22" y2="453.40" stroke="#959595" stroke-width="1.00"/>
<line x1="585.97" y1="449.40" x2="585.97" y2="451.60" stroke="#959595" stroke-width="1.00"/>
<line x1="620.71" y1="449.40" x2="620.71" y2="453.40" stroke="#959595" stroke-width="1.00"/>
<line x1="655.46" y1="449.40" x2="655.46" y2="451.60" stroke="#959595" stroke-width="1.00"/>
<line x1="690.20" y1="449.40" x2="690.20" y2="453.40" stroke="#959595" stroke-width="1.00"/>
<text x="412.24" y="462.00" font-size="6.30" text-anchor="middle" fill="#222222" font-weight="normal">400</text>
<text x="481.73" y="462.00" font-size="6.30" text-anchor="middle" fill="#222222" font-weight="normal">500</text>
<text x="551.22" y="462.00" font-size="6.30" text-anchor="middle" fill="#222222" font-weight="normal">600</text>
<text x="620.71" y="462.00" font-size="6.30" text-anchor="middle" fill="#222222" font-weight="normal">700</text>
<text x="690.20" y="462.00" font-size="6.30" text-anchor="middle" fill="#222222" font-weight="normal">800</text>
<text x="533.80" y="473.80" font-size="6.30" text-anchor="middle" fill="#222222" font-weight="normal">Wavelength (nm)</text>
<text x="0" y="0" font-size="5.4" text-anchor="middle" fill="#222222" transform="translate(356.50,351.30) rotate(-90) scale(1.21,1)">Normalized Intensity (a.u)</text>
<path d="M550.70,448.50C552.25,448.45 557.45,448.28 560.00,448.20C562.55,448.12 564.38,448.42 566.00,448.00C567.62,447.58 568.45,447.03 569.70,445.70C570.95,444.37 572.47,442.85 573.50,440.00C574.53,437.15 575.18,432.85 575.90,428.60C576.62,424.35 577.22,418.93 577.80,414.50C578.38,410.07 578.52,412.17 579.40,402.00C580.28,391.83 581.87,367.70 583.10,353.50C584.33,339.30 585.27,328.13 586.80,316.80C588.33,305.47 590.47,285.50 592.30,285.50C594.13,285.50 595.97,304.23 597.80,316.80C599.63,329.37 601.47,347.43 603.30,360.90C605.13,374.37 607.27,389.75 608.80,397.60C610.33,405.45 611.17,405.10 612.50,408.00C613.83,410.90 615.55,413.42 616.80,415.00C618.05,416.58 618.80,417.47 620.00,417.50C621.20,417.53 622.42,416.65 624.00,415.20C625.58,413.75 627.65,410.27 629.50,408.80C631.35,407.33 633.55,406.40 635.10,406.40C636.65,406.40 637.63,407.45 638.80,408.80C639.97,410.15 640.90,412.13 642.10,414.50C643.30,416.87 644.75,420.22 646.00,423.00C647.25,425.78 648.35,428.92 649.60,431.20C650.85,433.48 652.23,435.12 653.50,436.70C654.77,438.28 655.70,439.45 657.20,440.70C658.70,441.95 660.62,443.25 662.50,444.20C664.38,445.15 666.80,445.83 668.50,446.40C670.20,446.97 669.33,447.35 672.70,447.60C676.07,447.85 686.03,447.85 688.70,447.90" fill="none" stroke="#ff0000" stroke-width="2.10" stroke-linejoin="round" stroke-dasharray="4.6,2.1"/>
<path d="M377.60,421.60C378.85,421.20 383.02,420.23 385.10,419.20C387.18,418.17 388.15,416.87 390.10,415.40C392.05,413.93 394.98,411.93 396.80,410.40C398.62,408.87 399.87,407.78 401.00,406.20C402.13,404.62 402.82,402.90 403.60,400.90C404.38,398.90 405.10,396.27 405.70,394.20C406.30,392.13 406.47,391.93 407.20,388.50C407.93,385.07 409.05,378.88 410.10,373.60C411.15,368.32 412.52,362.40 413.50,356.80C414.48,351.20 415.15,345.80 416.00,340.00C416.85,334.20 417.55,328.75 418.60,322.00C419.65,315.25 421.00,305.45 422.30,299.50C423.60,293.55 425.03,284.97 426.40,286.30C427.77,287.63 429.35,298.53 430.50,307.50C431.65,316.47 432.38,328.75 433.30,340.10C434.22,351.45 435.05,365.12 436.00,375.60C436.95,386.08 438.17,396.27 439.00,403.00C439.83,409.73 440.28,411.42 441.00,416.00C441.72,420.58 442.30,426.58 443.30,430.50C444.30,434.42 445.53,437.72 447.00,439.50C448.47,441.28 449.57,441.08 452.10,441.20C454.63,441.32 459.18,440.70 462.20,440.20C465.22,439.70 467.52,439.03 470.20,438.20C472.88,437.37 475.95,437.20 478.30,435.20C480.65,433.20 482.28,429.55 484.30,426.20C486.32,422.85 488.78,417.38 490.40,415.10C492.02,412.82 492.67,412.17 494.00,412.50C495.33,412.83 496.83,415.00 498.40,417.10C499.97,419.20 501.88,423.25 503.40,425.10C504.92,426.95 505.98,428.37 507.50,428.20C509.02,428.03 510.67,425.52 512.50,424.10C514.33,422.68 516.83,420.03 518.50,419.70C520.17,419.37 520.82,420.02 522.50,422.10C524.18,424.18 526.58,429.52 528.60,432.20C530.62,434.88 532.60,437.53 534.60,438.20C536.60,438.87 538.25,437.30 540.60,436.20C542.95,435.10 546.35,431.93 548.70,431.60C551.05,431.27 552.68,432.77 554.70,434.20C556.72,435.63 559.08,438.83 560.80,440.20C562.52,441.57 563.67,441.88 565.00,442.40C566.33,442.92 567.53,443.47 568.80,443.30C570.07,443.13 571.35,442.58 572.60,441.40C573.85,440.22 575.05,438.33 576.30,436.20C577.55,434.07 578.83,431.28 580.10,428.60C581.37,425.92 582.80,422.22 583.90,420.10C585.00,417.98 585.83,416.77 586.70,415.90C587.57,415.03 588.22,414.75 589.10,414.90C589.98,415.05 591.13,415.70 592.00,416.80C592.87,417.90 593.43,419.53 594.30,421.50C595.17,423.47 596.10,426.15 597.20,428.60C598.30,431.05 599.65,433.90 600.90,436.20C602.15,438.50 603.55,440.83 604.70,442.40C605.85,443.97 606.58,444.78 607.80,445.60C609.02,446.42 609.97,446.97 612.00,447.30C614.03,447.63 616.00,447.50 620.00,447.60C624.00,447.70 633.33,447.85 636.00,447.90" fill="none" stroke="#ff0000" stroke-width="2.00" stroke-linejoin="round"/>
<path d="M377.60,442.30C379.32,442.12 384.85,441.52 387.90,441.20C390.95,440.88 393.50,440.62 395.90,440.40C398.30,440.18 400.70,440.38 402.30,439.90C403.90,439.42 404.43,438.95 405.50,437.50C406.57,436.05 407.63,433.58 408.70,431.20C409.77,428.82 410.97,425.07 411.90,423.20C412.83,421.33 413.48,421.55 414.30,420.00C415.12,418.45 415.95,417.43 416.80,413.90C417.65,410.37 418.70,405.52 419.40,398.80C420.10,392.08 420.53,382.57 421.00,373.60C421.47,364.63 421.67,356.02 422.20,345.00C422.73,333.98 423.50,317.28 424.20,307.50C424.90,297.72 425.72,286.30 426.40,286.30C427.08,286.30 427.70,297.17 428.30,307.50C428.90,317.83 429.47,333.72 430.00,348.30C430.53,362.88 430.92,383.38 431.50,395.00C432.08,406.62 432.83,411.67 433.50,418.00C434.17,424.33 434.70,428.82 435.50,433.00C436.30,437.18 437.18,440.75 438.30,443.10C439.42,445.45 440.58,446.25 442.20,447.10C443.82,447.95 445.00,448.00 448.00,448.20C451.00,448.40 455.15,448.42 460.20,448.30C465.25,448.18 473.95,448.10 478.30,447.50C482.65,446.90 483.78,445.52 486.30,444.70C488.82,443.88 491.38,442.60 493.40,442.60C495.42,442.60 496.23,443.98 498.40,444.70C500.57,445.42 503.38,446.90 506.40,446.90C509.42,446.90 513.48,444.63 516.50,444.70C519.52,444.77 521.48,446.70 524.50,447.30C527.52,447.90 530.90,448.37 534.60,448.30C538.30,448.23 543.35,446.97 546.70,446.90C550.05,446.83 550.82,447.67 554.70,447.90C558.58,448.13 565.78,448.28 570.00,448.30C574.22,448.32 577.20,448.22 580.00,448.00C582.80,447.78 584.63,447.00 586.80,447.00C588.97,447.00 590.80,447.78 593.00,448.00C595.20,448.22 583.83,448.20 600.00,448.30C616.17,448.40 675.00,448.55 690.00,448.60" fill="none" stroke="#111111" stroke-width="1.80" stroke-linejoin="round"/>
<line x1="381.90" y1="256.60" x2="397.10" y2="256.60" stroke="#ff0000" stroke-width="1.60" stroke-dasharray="4.3,1.9"/>
<line x1="381.90" y1="264.70" x2="397.10" y2="264.70" stroke="#ff0000" stroke-width="1.60"/>
<line x1="381.90" y1="272.50" x2="397.10" y2="272.50" stroke="#222" stroke-width="2.20"/>
<text x="398.40" y="258.80" font-size="6.30" text-anchor="start" fill="#222222" font-weight="normal">Emission</text>
<text x="398.40" y="266.90" font-size="6.30" text-anchor="start" fill="#222222" font-weight="normal">Excitation</text>
<text x="398.40" y="274.70" font-size="6.30" text-anchor="start" fill="#222222" font-weight="normal">Absorbance</text>
<text x="491.50" y="269.00" font-size="13.00" text-anchor="start" fill="#111" font-weight="bold" letter-spacing="1.3" transform="translate(491.5,0) scale(0.8,1) translate(-491.5,0)">D)</text>
</svg>
</body></html>
